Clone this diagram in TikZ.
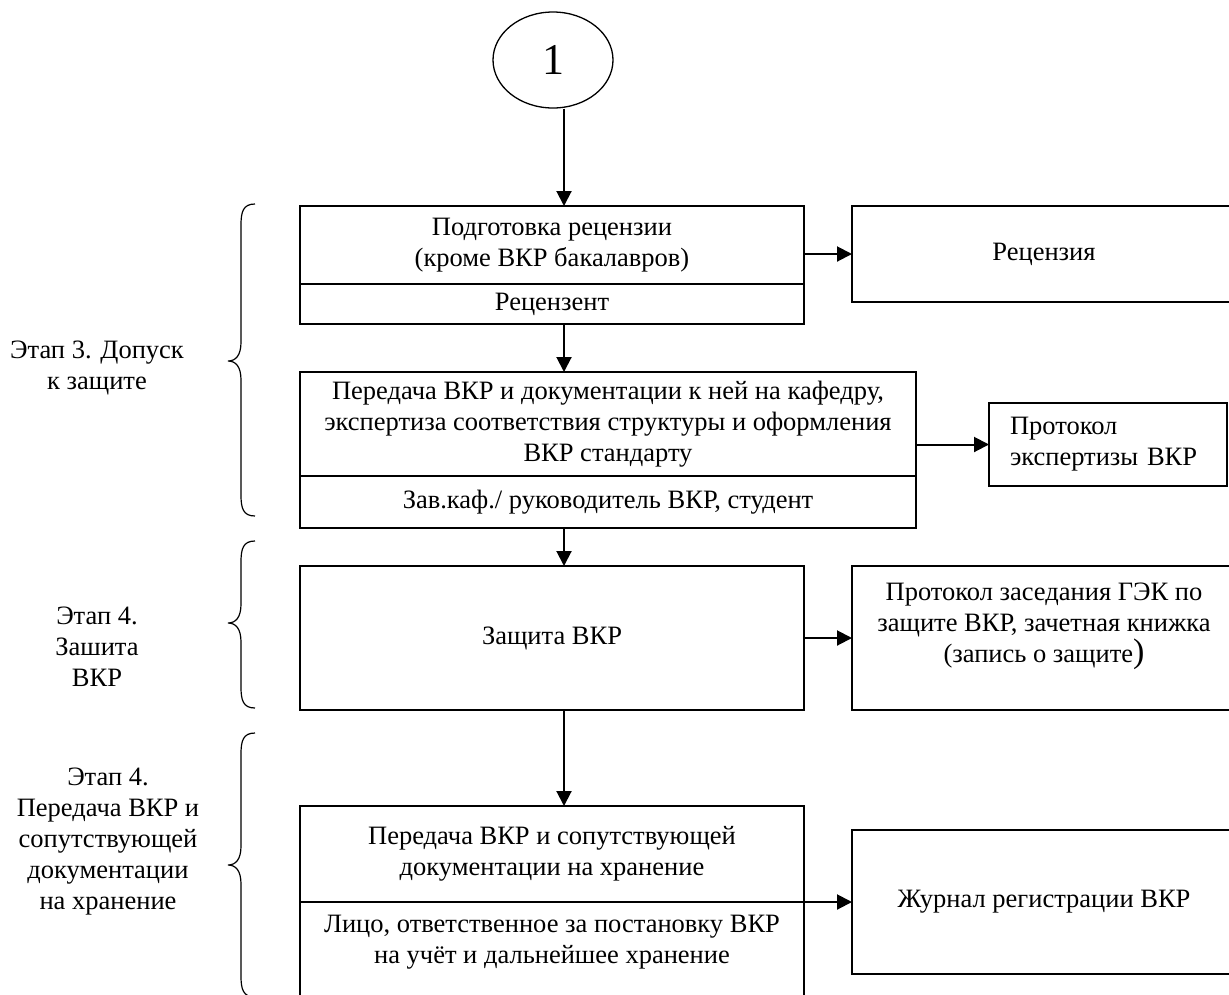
\documentclass[tikz,border=0pt]{standalone}
\usepackage{fontspec}
\setmainfont{Liberation Serif}
\usetikzlibrary{arrows.meta,shapes.geometric}
\begin{document}
\begin{tikzpicture}[x=1pt,y=-1pt,
  font=\fontsize{26.5}{31}\selectfont,
  box/.style={draw,line width=2pt,rectangle,inner sep=0pt,outer sep=0pt,align=center},
  arr/.style={line width=2pt,-{Triangle[length=15pt,width=15pt]}},
  brc/.style={line width=1.2pt},
  stage/.style={align=center,inner sep=0pt}]
\useasboundingbox (0,0) rectangle (1229,994);
\fill[white] (0,0) rectangle (1229,994);
\coordinate (col) at (564,0);
% start
\node[draw,ellipse,line width=1.3pt,minimum width=120pt,minimum height=96pt,inner sep=0pt,
  font=\fontsize{44}{44}\selectfont] (e) at (553,60) {1};
% main column
\node[box,minimum width=504pt,minimum height=78pt] (b1t) at (552,245) {Подготовка рецензии\\(кроме ВКР бакалавров)};
\node[box,minimum width=504pt,minimum height=40pt] (b1b) at (552,304) {Рецензент};
\node[box,minimum width=616pt,minimum height=104pt] (b2t) at (608,424) {Передача ВКР и документации к ней на кафедру,\\экспертиза соответствия структуры и оформления\\ВКР стандарту};
\node[box,minimum width=616pt,minimum height=52pt] (b2b) at (608,502) {Зав.каф./ руководитель ВКР, студент};
\node[box,minimum width=504pt,minimum height=144pt] (b3) at (552,638) {Защита ВКР};
\node[box,minimum width=504pt,minimum height=96pt] (b4t) at (552,854) {Передача ВКР и сопутствующей\\документации на хранение};
\node[box,minimum width=504pt,minimum height=130pt] (b4b) at (552,967) {};
\node[stage] (b4bt) at (552,942) {Лицо, ответственное за постановку ВКР\\на учёт и дальнейшее хранение};
% right column
\node[box,minimum width=384pt,minimum height=96pt] (rec) at (1044,254) {Рецензия};
\node[box,minimum width=238pt,minimum height=83pt,text width=196pt,align=left,inner xsep=21pt] (prot) at (1108,444.5) {Протокол\\экспертизы ВКР};
\node[box,minimum width=384pt,minimum height=144pt] (gek) at (1044,638) {};
\node[stage] (gekt) at (1044,626) {Протокол заседания ГЭК по\\защите ВКР, зачетная книжка\\(запись о защите{\fontsize{34}{31}\selectfont )}};
\node[box,minimum width=384pt,minimum height=144pt] (jour) at (1044,902) {Журнал регистрации ВКР};
% connectors
\draw[arr] (e.south -| col) -- (b1t.north -| col);
\draw[arr] (b1b.south -| col) -- (b2t.north -| col);
\draw[arr] (b2b.south -| col) -- (b3.north -| col);
\draw[arr] (b3.south -| col) -- (b4t.north -| col);
\draw[arr] (rec.west -| b1t.east) -- (rec.west);
\draw[arr] (prot.west -| b2t.east) -- (prot.west);
\draw[arr] (b3.east) -- (gek.west);
\draw[arr] (b4t.south east) -- (jour.west);
% braces
\draw[brc] (255,204) .. controls (243,204) and (241,212) .. (241,225) -- (241,342)
  .. controls (241,355) and (236,361) .. (228,361) .. controls (236,361) and (241,367) .. (241,380)
  -- (241,495) .. controls (241,508) and (243,516) .. (255,516);
\draw[brc] (255,541) .. controls (243,541) and (241,549) .. (241,562) -- (241,604)
  .. controls (241,617) and (236,623) .. (228,623) .. controls (236,623) and (241,629) .. (241,642)
  -- (241,687) .. controls (241,700) and (243,708) .. (255,708);
\draw[brc] (255,733) .. controls (243,733) and (241,741) .. (241,754) -- (241,846)
  .. controls (241,859) and (236,865) .. (228,865) .. controls (236,865) and (241,871) .. (241,884)
  -- (241,976) .. controls (241,989) and (243,997) .. (255,997);
% stage labels
\node[stage] (s3) at (97,368) {Этап 3. Допуск\\к защите};
\node[stage] (s4) at (97,647) {Этап 4.\\Зашита\\ВКР};
\node[stage] (s5) at (108,842) {Этап 4.\\Передача ВКР и\\сопутствующей\\документации\\на хранение};
\end{tikzpicture}
\end{document}
